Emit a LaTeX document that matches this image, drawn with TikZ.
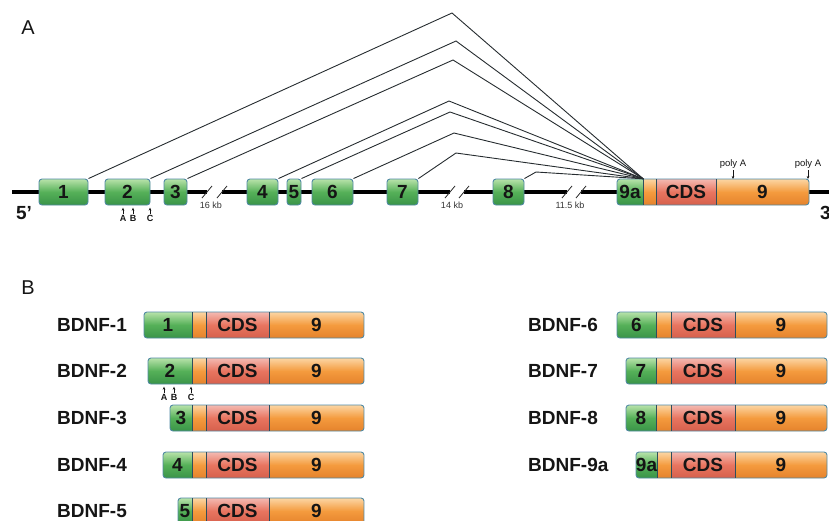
\documentclass[tikz,border=0pt]{standalone}
\usepackage{fontspec}
\setmainfont{Liberation Sans}
\usetikzlibrary{arrows.meta}

\definecolor{gtop}{HTML}{B8E3AA}
\definecolor{gmid}{HTML}{55B058}
\definecolor{gbot}{HTML}{3A9448}
\definecolor{otop}{HTML}{FCD6A4}
\definecolor{omid}{HTML}{F49B3E}
\definecolor{obot}{HTML}{E5822C}
\definecolor{ctop}{HTML}{F4BAB2}
\definecolor{cmid}{HTML}{E87560}
\definecolor{cbot}{HTML}{D6604C}
\definecolor{bord}{HTML}{5089A3}
\definecolor{divc}{HTML}{2E4E5E}
\definecolor{splc}{HTML}{262C30}
\definecolor{txtc}{HTML}{151515}

\tikzset{
  gfill/.style={top color=gtop, bottom color=gbot, middle color=gmid},
  ofill/.style={top color=otop, bottom color=obot, middle color=omid},
  cfill/.style={top color=ctop, bottom color=cbot, middle color=cmid},
  bordline/.style={draw=bord, line width=0.9pt},
  divline/.style={draw=divc, line width=0.8pt},
  numtxt/.style={inner sep=0pt, font=\fontsize{19}{19}\selectfont\bfseries, text=txtc},
  exon/.style={numtxt, gfill, draw=bord, line width=0.9pt, rounded corners=3pt, minimum height=26pt},
  backbone/.style={line width=4.5pt, black},
  slash/.style={line width=0.8pt, black!85},
  splice/.style={line width=0.9pt, splc, line join=miter},
  kb/.style={inner sep=0pt, font=\fontsize{9}{9}\selectfont, text=black!80},
  polya/.style={inner sep=0pt, font=\fontsize{9.5}{9.5}\selectfont, text=txtc},
  site/.style={inner sep=0pt, font=\fontsize{9}{9}\selectfont\bfseries, text=txtc},
  tick/.style={line width=0.6pt, txtc, -{Stealth[length=3pt,width=2.6pt]}},
  rowlab/.style={inner sep=0pt, anchor=west, font=\fontsize{19}{19}\selectfont\bfseries, text=txtc},
  panel/.style={inner sep=0pt, font=\fontsize{20}{20}\selectfont, text=txtc},
  endlab/.style={inner sep=0pt, font=\fontsize{19}{19}\selectfont\bfseries, text=txtc}
}

% #1 name of exon node, #2 y centre, #3 left, #4 exon end, #5 orange end, #6 CDS end, #7 right, #8 exon label
\newcommand\txbar[8]{%
  \begin{scope}
    \clip[rounded corners=3pt] (#3,#2-13) rectangle (#7,#2+13);
    \shade[gfill] (#3,#2-13) rectangle (#4,#2+13);
    \shade[ofill] (#4,#2-13) rectangle (#5,#2+13);
    \shade[cfill] (#5,#2-13) rectangle (#6,#2+13);
    \shade[ofill] (#6,#2-13) rectangle (#7,#2+13);
  \end{scope}
  \draw[bordline, rounded corners=3pt] (#3,#2-13) rectangle (#7,#2+13);
  \draw[divline] (#4,#2-13) -- (#4,#2+13) (#5,#2-13) -- (#5,#2+13) (#6,#2-13) -- (#6,#2+13);
  \node[numtxt, minimum width={(#4-#3)*1pt}, minimum height=26pt] (#1) at ({(#3+#4)/2},#2) {#8};
  \node[numtxt] (#1c) at ({(#5+#6)/2},#2) {CDS};
  \node[numtxt] (#1n) at ({(#6+#7)/2},#2) {9};
}

\begin{document}
\begin{tikzpicture}[x=1pt,y=-1pt]
\useasboundingbox (0,0) rectangle (829,520);
\clip (0,0) rectangle (829,520);

% ---------------- Panel A ----------------
\node[panel] (pA) at (28,28) {A};

% backbone with breaks
\draw[backbone] (12,192) -- (207,192);
\draw[backbone] (222,192) -- (450,192);
\draw[backbone] (464,192) -- (567,192);
\draw[backbone] (581,192) -- (829,192);
\foreach \s in {207,222,450,464,567,581}
  \draw[slash] (\s-5,198) -- (\s+5,186);

\node[kb] (k16) at (211,205) {16 kb};
\node[kb] (k14) at (452,205) {14 kb};
\node[kb] (k115) at (570,205) {11.5 kb};

% exons
\node[exon, minimum width=49pt] (e1) at (63.5,192) {1};
\node[exon, minimum width=45pt] (e2) at (127.5,192) {2};
\node[exon, minimum width=23pt] (e3) at (175.5,192) {3};
\node[exon, minimum width=31pt] (e4) at (262.5,192) {4};
\node[exon, minimum width=14pt] (e5) at (294,192) {5};
\node[exon, minimum width=41pt] (e6) at (332.5,192) {6};
\node[exon, minimum width=31pt] (e7) at (402.5,192) {7};
\node[exon, minimum width=31pt] (e8) at (508.5,192) {8};
\txbar{e9a}{192}{617}{643}{656}{716}{809}{9a}

% splicing connectors
\foreach \n/\ax/\ay in {1/452/13, 2/456/41, 3/453/60, 4/449/101, 5/450/112, 6/454/133, 7/456/153, 8/536/172}
  \draw[splice] (e\n.north east) -- (\ax,\ay) -- (e9a.north east);

% poly A sites
\node[polya] (pa1) at (733,164) {poly A};
\node[polya] (pa2) at (808,164) {poly A};
\draw[tick] (pa1.south) ++(0,1.5) -- (733,179);
\draw[tick] (pa2.south) ++(0,1.5) -- (808,179);

% transcription start sites of exon 2
\node[site] (sA) at (123,218) {A};
\node[site] (sB) at (133,218) {B};
\node[site] (sC) at (150,218) {C};
\foreach \m in {sA,sB,sC}
  \draw[tick] (\m.north) ++(0,-1) -- ++(0,-6);

\node[endlab] (five) at (24,213) {5'};
\node[endlab, anchor=west] (three) at (820,213) {3'};

% ---------------- Panel B ----------------
\node[panel] (pB) at (28,288) {B};

\node[rowlab] (l1) at (57,325) {BDNF-1};
\node[rowlab] (l2) at (57,371) {BDNF-2};
\node[rowlab] (l3) at (57,418) {BDNF-3};
\node[rowlab] (l4) at (57,465) {BDNF-4};
\node[rowlab] (l5) at (57,511) {BDNF-5};

\txbar{b1}{325}{144}{192}{206}{269}{364}{1}
\txbar{b2}{371}{148}{192}{206}{269}{364}{2}
\txbar{b3}{418}{170}{192}{206}{269}{364}{3}
\txbar{b4}{465}{163}{192}{206}{269}{364}{4}
\txbar{b5}{511}{178}{192}{206}{269}{364}{5}

\node[site] (tA) at (164,397) {A};
\node[site] (tB) at (174,397) {B};
\node[site] (tC) at (191,397) {C};
\foreach \m in {tA,tB,tC}
  \draw[tick] (\m.north) ++(0,-1) -- ++(0,-6);

\node[rowlab] (l6) at (528,325) {BDNF-6};
\node[rowlab] (l7) at (528,371) {BDNF-7};
\node[rowlab] (l8) at (528,418) {BDNF-8};
\node[rowlab] (l9a) at (528,465) {BDNF-9a};

\txbar{b6}{325}{617}{656}{671}{735}{827}{6}
\txbar{b7}{371}{626}{656}{671}{735}{827}{7}
\txbar{b8}{418}{626}{656}{671}{735}{827}{8}
\txbar{b9a}{465}{636}{657}{671}{735}{827}{9a}
\end{tikzpicture}
\end{document}
